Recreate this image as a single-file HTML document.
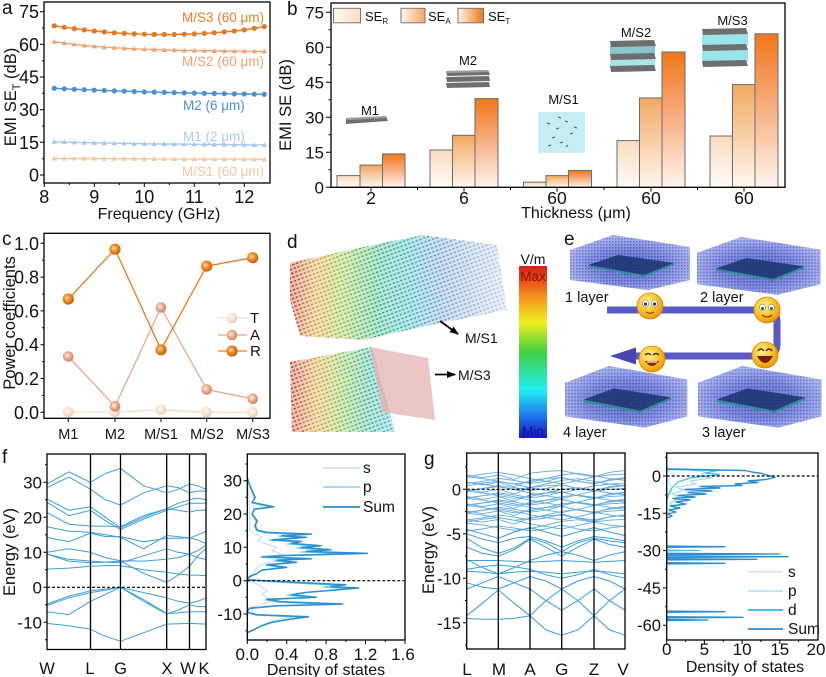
<!DOCTYPE html>
<html><head><meta charset="utf-8">
<style>
html,body{margin:0;padding:0;background:#fff;width:826px;height:677px;overflow:hidden}
svg{display:block}
text{font-family:"Liberation Sans",Arial,sans-serif;fill:#111}
</style></head>
<body>
<svg width="826" height="677" viewBox="0 0 826 677" xmlns="http://www.w3.org/2000/svg">
<defs>
  <marker id="mc1" markerUnits="userSpaceOnUse" markerWidth="8" markerHeight="8" refX="4" refY="4"><circle cx="4" cy="4" r="2.6" fill="#e87722"/></marker>
  <marker id="mc2" markerUnits="userSpaceOnUse" markerWidth="8" markerHeight="8" refX="4" refY="4"><circle cx="4" cy="4" r="2.6" fill="#4a90d9"/></marker>
  <marker id="mt1" markerUnits="userSpaceOnUse" markerWidth="7" markerHeight="7" refX="3.5" refY="3.5"><path d="M3.5,0.8 L6.2,5.6 L0.8,5.6Z" fill="#f0a275"/></marker>
  <marker id="mt2" markerUnits="userSpaceOnUse" markerWidth="7" markerHeight="7" refX="3.5" refY="3.5"><path d="M3.5,0.8 L6.2,5.6 L0.8,5.6Z" fill="#a8c8ec"/></marker>
  <marker id="mt3" markerUnits="userSpaceOnUse" markerWidth="7" markerHeight="7" refX="3.5" refY="3.5"><path d="M3.5,0.8 L6.2,5.6 L0.8,5.6Z" fill="#f5c9a0"/></marker>
  <radialGradient id="sR" cx=".4" cy=".4" r=".65"><stop offset="0" stop-color="#ffe0b0"/><stop offset=".45" stop-color="#f08a20"/><stop offset="1" stop-color="#c05a08"/></radialGradient>
  <radialGradient id="sA" cx=".4" cy=".4" r=".65"><stop offset="0" stop-color="#fff0e8"/><stop offset=".5" stop-color="#eaa88a"/><stop offset="1" stop-color="#c88060"/></radialGradient>
  <radialGradient id="sT" cx=".4" cy=".4" r=".65"><stop offset="0" stop-color="#fffaf5"/><stop offset=".5" stop-color="#fbe2cc"/><stop offset="1" stop-color="#e8c8b0"/></radialGradient>
  <marker id="mR" markerUnits="userSpaceOnUse" markerWidth="13" markerHeight="13" refX="6.5" refY="6.5"><circle cx="6.5" cy="6.5" r="5.6" fill="url(#sR)"/></marker>
  <marker id="mA" markerUnits="userSpaceOnUse" markerWidth="13" markerHeight="13" refX="6.5" refY="6.5"><circle cx="6.5" cy="6.5" r="5.3" fill="url(#sA)"/></marker>
  <marker id="mT" markerUnits="userSpaceOnUse" markerWidth="13" markerHeight="13" refX="6.5" refY="6.5"><circle cx="6.5" cy="6.5" r="5.3" fill="url(#sT)"/></marker>
  <linearGradient id="gR" x1="0" y1="0" x2="0" y2="1"><stop offset="0" stop-color="#fadcc0"/><stop offset="1" stop-color="#fffbf7"/></linearGradient>
  <linearGradient id="gA" x1="0" y1="0" x2="0" y2="1"><stop offset="0" stop-color="#f2a860"/><stop offset="1" stop-color="#fff7f0"/></linearGradient>
  <linearGradient id="gT" x1="0" y1="0" x2="0" y2="1"><stop offset="0" stop-color="#f17619"/><stop offset=".5" stop-color="#f7b085"/><stop offset="1" stop-color="#fff5ee"/></linearGradient>
  <linearGradient id="lR" x1="0" y1="0" x2="1" y2="0"><stop offset="0" stop-color="#fffbf7"/><stop offset="1" stop-color="#fadcc0"/></linearGradient>
  <linearGradient id="lA" x1="0" y1="0" x2="1" y2="0"><stop offset="0" stop-color="#fff7f0"/><stop offset="1" stop-color="#f2a860"/></linearGradient>
  <linearGradient id="lT" x1="0" y1="0" x2="1" y2="0"><stop offset="0" stop-color="#fff5ee"/><stop offset="1" stop-color="#f17619"/></linearGradient>
  <linearGradient id="cb" x1="0" y1="0" x2="0" y2="1">
    <stop offset="0" stop-color="#d8201a"/><stop offset=".08" stop-color="#e84a18"/><stop offset=".2" stop-color="#f5a020"/>
    <stop offset=".33" stop-color="#f0f020"/><stop offset=".5" stop-color="#40d040"/><stop offset=".62" stop-color="#30e0a0"/>
    <stop offset=".72" stop-color="#20f0f0"/><stop offset=".86" stop-color="#2080f0"/><stop offset="1" stop-color="#1818c0"/>
  </linearGradient>
  <linearGradient id="cl1" gradientUnits="userSpaceOnUse" x1="290" y1="0" x2="505" y2="0">
    <stop offset="0" stop-color="#c42a1e"/><stop offset=".12" stop-color="#d9a030"/><stop offset=".25" stop-color="#8cc040"/>
    <stop offset=".4" stop-color="#30b070"/><stop offset=".55" stop-color="#30b0b8"/><stop offset=".7" stop-color="#6a9cd0"/><stop offset="1" stop-color="#c0cce8"/>
  </linearGradient>
  <linearGradient id="cl2" gradientUnits="userSpaceOnUse" x1="290" y1="0" x2="395" y2="0">
    <stop offset="0" stop-color="#c42a1e"/><stop offset=".25" stop-color="#d9a030"/><stop offset=".5" stop-color="#7cc040"/>
    <stop offset=".75" stop-color="#30b090"/><stop offset="1" stop-color="#50b8d8"/>
  </linearGradient>
  <pattern id="dp" width="4" height="4" patternUnits="userSpaceOnUse" patternTransform="rotate(-20)">
    <rect width="4" height="4" fill="#000"/><rect width="2.4" height="1.6" fill="#fff"/>
  </pattern>
  <mask id="dm"><rect x="280" y="220" width="260" height="220" fill="url(#dp)"/></mask>
  <radialGradient id="bg1" cx=".5" cy=".55" r=".62"><stop offset="0" stop-color="#2838a8"/><stop offset=".5" stop-color="#5060cc"/><stop offset="1" stop-color="#a4acee"/></radialGradient>
  <pattern id="dotB" width="3" height="3" patternUnits="userSpaceOnUse"><rect width="3" height="3" fill="#fff"/><rect width="1.5" height="1.5" fill="#3a4ac0"/></pattern>
  <g id="blk">
    <polygon points="0,15 43,0 120,12 120,45 78,55 0,45" fill="url(#bg1)"/>
    <polygon points="0,15 43,0 120,12 120,45 78,55 0,45" fill="url(#dotB)" opacity=".3"/>
    <polygon points="18,30 48,20 104,28 74,40" fill="#1c3270" opacity=".85"/>
    <polyline points="18,31 74,41 104,29" stroke="#2f8f96" stroke-width="2" fill="none"/>
  </g>
  <radialGradient id="emo" cx=".4" cy=".35" r=".7"><stop offset="0" stop-color="#fff3a0"/><stop offset=".5" stop-color="#ffc830"/><stop offset="1" stop-color="#e89000"/></radialGradient>
  <marker id="arr" markerUnits="userSpaceOnUse" markerWidth="10" markerHeight="10" refX="8" refY="5" orient="auto"><path d="M0,1.5 L9,5 L0,8.5Z" fill="#000"/></marker>
  <path id="s1" d="M466.7,0 L482.5,2.7 L498.3,0 L514.2,4.5 L530,-1.8 L545.9,-3.6 L561.7,-4.5 L577.9,-0.9 L594,1.8 L609.5,-2.7 L625,-4.5" fill="none"/>
  <path id="s2" d="M466.7,0 L482.5,-2.7 L498.3,-4.5 L514.2,-1.8 L530,1.8 L545.9,4.5 L561.7,7.1 L577.9,3.6 L594,0 L609.5,-1.8 L625,-2.7" fill="none"/>
  <path id="s3" d="M466.7,-1.8 L482.5,0 L498.3,2.7 L514.2,5.3 L530,3.6 L545.9,0 L561.7,-3.6 L577.9,-5.3 L594,-2.7 L609.5,0 L625,1.8" fill="none"/>
  <path id="s4" d="M466.7,3 L482.5,1 L498.3,-2 L514.2,0 L530,3 L545.9,1 L561.7,-3 L577.9,1 L594,3 L609.5,0 L625,-2" fill="none"/>
</defs>

<!-- ================= PANEL A ================= -->
<text x="2" y="14" font-size="19">a</text>
<rect x="44" y="2" width="226" height="181" fill="none" stroke="#000" stroke-width="1.3"/>
<g stroke="#000" stroke-width="1">
  <path d="M40,175H44M40,142.3H44M40,109.7H44M40,77H44M40,44.3H44M40,11.7H44M42,158.7H44M42,126H44M42,93.3H44M42,60.7H44M42,28H44"/>
  <path d="M44.3,183V187M94.3,183V187M144.3,183V187M194.3,183V187M244.3,183V187M69.3,183V185M119.3,183V185M169.3,183V185M219.3,183V185"/>
</g>
<g font-size="18" text-anchor="end">
  <text x="39" y="18.2">75</text><text x="39" y="50.8">60</text><text x="39" y="83.5">45</text>
  <text x="39" y="116.2">30</text><text x="39" y="148.8">15</text><text x="39" y="181.5">0</text>
</g>
<g font-size="18" text-anchor="middle">
  <text x="44.3" y="203">8</text><text x="94.3" y="203">9</text><text x="144.3" y="203">10</text>
  <text x="194.3" y="203">11</text><text x="244.3" y="203">12</text>
</g>
<text x="159" y="219" font-size="16" text-anchor="middle">Frequency (GHz)</text>
<text transform="translate(16,97) rotate(-90)" font-size="16.5" text-anchor="middle">EMI SE<tspan font-size="11" dy="4">T</tspan><tspan dy="-4"> (dB)</tspan></text>
<g fill="none" stroke-width="1.4">
  <polyline stroke="#e87722" marker-start="url(#mc1)" marker-mid="url(#mc1)" marker-end="url(#mc1)" points="54.3,25.8 64.3,27.3 74.3,28.6 84.3,29.9 94.3,31.0 104.3,31.9 114.3,32.8 124.3,33.4 134.3,33.9 144.3,34.2 154.3,34.5 164.3,34.5 174.3,34.5 184.3,34.2 194.3,33.9 204.3,33.4 214.3,32.8 224.3,31.9 234.3,31.0 244.3,29.9 254.3,28.4 264.3,26.6"/>
  <polyline stroke="#f0a275" marker-start="url(#mt1)" marker-mid="url(#mt1)" marker-end="url(#mt1)" points="54.3,41.7 64.3,43.1 74.3,44.3 84.3,45.4 94.3,46.3 104.3,47.1 114.3,47.7 124.3,48.3 134.3,48.8 144.3,49.2 154.3,49.6 164.3,49.9 174.3,50.1 184.3,50.4 194.3,50.5 204.3,50.7 214.3,50.9 224.3,51.0 234.3,51.1 244.3,51.2 254.3,51.3 264.3,51.3"/>
  <polyline stroke="#4a90d9" marker-start="url(#mc2)" marker-mid="url(#mc2)" marker-end="url(#mc2)" points="54.3,88.3 64.3,88.8 74.3,89.3 84.3,89.7 94.3,90.1 104.3,90.5 114.3,90.9 124.3,91.2 134.3,91.5 144.3,91.8 154.3,92.1 164.3,92.4 174.3,92.6 184.3,92.9 194.3,93.1 204.3,93.3 214.3,93.5 224.3,93.7 234.3,93.9 244.3,94.0 254.3,94.2 264.3,94.3"/>
  <polyline stroke="#a8c8ec" marker-start="url(#mt2)" marker-mid="url(#mt2)" marker-end="url(#mt2)" points="54.3,141.7 64.3,142.0 74.3,142.3 84.3,142.6 94.3,142.8 104.3,143.0 114.3,143.2 124.3,143.4 134.3,143.6 144.3,143.7 154.3,143.9 164.3,144.0 174.3,144.1 184.3,144.2 194.3,144.3 204.3,144.4 214.3,144.5 224.3,144.6 234.3,144.7 244.3,144.8 254.3,144.9 264.3,145.0"/>
  <polyline stroke="#f5c9a0" marker-start="url(#mt3)" marker-mid="url(#mt3)" marker-end="url(#mt3)" points="54.3,158.3 64.3,158.4 74.3,158.4 84.3,158.5 94.3,158.5 104.3,158.6 114.3,158.6 124.3,158.7 134.3,158.7 144.3,158.8 154.3,158.8 164.3,158.8 174.3,158.9 184.3,158.9 194.3,159.0 204.3,159.0 214.3,159.0 224.3,159.1 234.3,159.1 244.3,159.2 254.3,159.2 264.3,159.3"/>
</g>
<g font-size="13.5">
  <text x="182" y="22" style="fill:#e8802a">M/S3 (60 μm)</text>
  <text x="182" y="66" style="fill:#f0a070">M/S2 (60 μm)</text>
  <text x="183" y="110" style="fill:#4a8fd8">M2 (6 μm)</text>
  <text x="183" y="141" style="fill:#a9c9ee">M1 (2 μm)</text>
  <text x="182" y="176" style="fill:#f5c8a0">M/S1 (60 μm)</text>
</g>

<!-- ================= PANEL B ================= -->
<text x="287" y="15" font-size="19">b</text>
<text transform="translate(291,105) rotate(-90)" font-size="16.5" text-anchor="middle">EMI SE (dB)</text>
<g stroke="#6c6c6c" stroke-width="1">
  <rect x="337" y="175.6" width="23" height="11.7" fill="url(#gR)"/>
  <rect x="360" y="165.1" width="22.5" height="22.2" fill="url(#gA)"/>
  <rect x="382.5" y="153.9" width="22.5" height="33.4" fill="url(#gT)"/>
  <rect x="430" y="150" width="22.5" height="37.3" fill="url(#gR)"/>
  <rect x="452.5" y="135.3" width="22.5" height="52" fill="url(#gA)"/>
  <rect x="475" y="98.6" width="23" height="88.7" fill="url(#gT)"/>
  <rect x="523.5" y="182.2" width="22.5" height="5.1" fill="url(#gR)"/>
  <rect x="546" y="175.6" width="22.5" height="11.7" fill="url(#gA)"/>
  <rect x="568.5" y="170.5" width="23" height="16.8" fill="url(#gT)"/>
  <rect x="617" y="140.6" width="22.5" height="46.7" fill="url(#gR)"/>
  <rect x="639.5" y="97.9" width="22.5" height="89.4" fill="url(#gA)"/>
  <rect x="662" y="52" width="23" height="135.3" fill="url(#gT)"/>
  <rect x="710" y="136" width="22.5" height="51.3" fill="url(#gR)"/>
  <rect x="732.5" y="84.6" width="22.5" height="102.7" fill="url(#gA)"/>
  <rect x="755" y="33.8" width="23" height="153.5" fill="url(#gT)"/>
</g>
<rect x="331" y="3" width="454" height="184.3" fill="none" stroke="#000" stroke-width="1.3"/>
<g stroke="#000" stroke-width="1">
  <path d="M326,187.3H331M326,152.3H331M326,117.3H331M326,82.3H331M326,47.3H331M326,12.3H331M328.5,169.8H331M328.5,134.8H331M328.5,99.8H331M328.5,64.8H331M328.5,29.8H331"/>
  <path d="M371,187.3V191.5M464,187.3V191.5M557,187.3V191.5M651,187.3V191.5M744,187.3V191.5M417.5,187.3V190M510.5,187.3V190M604,187.3V190M697.5,187.3V190"/>
</g>
<g font-size="17" text-anchor="end">
  <text x="324" y="18.3">75</text><text x="324" y="53.3">60</text><text x="324" y="88.3">45</text>
  <text x="324" y="123.3">30</text><text x="324" y="158.3">15</text><text x="324" y="193.3">0</text>
</g>
<g font-size="17.5" text-anchor="middle">
  <text x="371" y="204">2</text><text x="464" y="204">6</text><text x="557" y="204">60</text>
  <text x="651" y="204">60</text><text x="744" y="204">60</text>
</g>
<text x="576" y="218" font-size="16" text-anchor="middle">Thickness (μm)</text>
<g stroke="#777" stroke-width="1">
  <rect x="333.5" y="8.3" width="27" height="14.5" fill="url(#lR)"/>
  <rect x="401" y="8.3" width="24" height="14.5" fill="url(#lA)"/>
  <rect x="458" y="8.3" width="25.5" height="14.5" fill="url(#lT)"/>
</g>
<g font-size="13">
  <text x="365" y="21">SE<tspan font-size="8" dy="3">R</tspan></text>
  <text x="428" y="21">SE<tspan font-size="8" dy="3">A</tspan></text>
  <text x="488" y="21">SE<tspan font-size="8" dy="3">T</tspan></text>
</g>
<g font-size="13" text-anchor="middle">
  <text x="370" y="115">M1</text><text x="468" y="65">M2</text><text x="563.5" y="104">M/S1</text>
  <text x="636" y="37">M/S2</text><text x="732.5" y="25">M/S3</text>
</g>
<g fill="#6e6e6e">
  <polygon points="346,118 386,116 388,121 346,124"/>
  <polygon points="446,71 488,70 490,75 447,76"/>
  <polygon points="446,77 489,76 490,81 447,82"/>
  <polygon points="446,83 489,82 490,87 447,88"/>
</g>
<g fill="#a0a0a0"><polygon points="346,118 386,116 387,118 347,120"/><polygon points="446,71 488,70 489,72 447,73"/></g>
<rect x="538" y="112" width="47" height="41" fill="#c7eef4"/>
<g stroke="#555" stroke-width="1">
  <path d="M547,123l3,1M556,129l3,-1M565,121l3,1M552,138l3,-1M570,134l3,-1M560,143l3,-1M574,127l3,1M548,146l3,-1M566,147l2,-2M558,117l3,1"/>
</g>
<rect x="610" y="46" width="45" height="9" fill="#86c8cc"/>
<rect x="610" y="59" width="45" height="8" fill="#a8e4ea"/>
<g fill="#6e6e6e">
  <polygon points="610,41 654,40 656,46 611,47"/>
  <polygon points="610,54 654,53 656,59 611,60"/>
  <polygon points="610,66 654,65 656,71 611,72"/>
</g>
<rect x="702" y="34" width="46" height="12" fill="#9ae4ea"/>
<rect x="702" y="50" width="46" height="12" fill="#9ae4ea"/>
<g fill="#6e6e6e">
  <polygon points="702,29 746,28 748,34 703,35"/>
  <polygon points="702,45 746,44 748,50 703,51"/>
  <polygon points="702,61 746,60 748,66 703,67"/>
</g>

<!-- ================= PANEL C ================= -->
<text x="2" y="245" font-size="19">c</text>
<rect x="44" y="233.3" width="226" height="185" fill="none" stroke="#000" stroke-width="1.3"/>
<g stroke="#000" stroke-width="1">
  <path d="M40.5,412.3H44M40.5,378.5H44M40.5,344.7H44M40.5,310.9H44M40.5,277.1H44M40.5,243.3H44M42,395.4H44M42,361.6H44M42,327.8H44M42,294H44M42,260.2H44"/>
  <path d="M68.3,418.3V422M115,418.3V422M161,418.3V422M206.7,418.3V422M252.7,418.3V422"/>
</g>
<g font-size="18" text-anchor="end">
  <text x="39" y="418.8">0.0</text><text x="39" y="385">0.2</text><text x="39" y="351.2">0.4</text>
  <text x="39" y="317.4">0.6</text><text x="39" y="283.6">0.8</text><text x="39" y="249.8">1.0</text>
</g>
<g font-size="14.5" text-anchor="middle">
  <text x="68.3" y="439">M1</text><text x="115" y="439">M2</text><text x="161" y="439">M/S1</text>
  <text x="207" y="439">M/S2</text><text x="253" y="439">M/S3</text>
</g>
<text transform="translate(15,323) rotate(-90)" font-size="16.5" text-anchor="middle">Power coefficients</text>
<g fill="none" stroke-width="1.3">
  <polyline stroke="#f8dcc8" marker-start="url(#mT)" marker-mid="url(#mT)" marker-end="url(#mT)" points="68.3,412 115,412 161,409.8 206.7,412.3 252.7,412.3"/>
  <polyline stroke="#eaa88a" marker-start="url(#mA)" marker-mid="url(#mA)" marker-end="url(#mA)" points="68.3,356.5 115,406.4 161,307.5 206.7,389.5 252.7,398.8"/>
  <polyline stroke="#e87a1e" marker-start="url(#mR)" marker-mid="url(#mR)" marker-end="url(#mR)" points="68.3,299.1 115,249.2 161,349.8 206.7,266.1 252.7,257.7"/>
  <polyline stroke="#f8dcc8" marker-mid="url(#mT)" points="218,318 232,318 247,318"/>
  <polyline stroke="#eaa88a" marker-mid="url(#mA)" points="218,335 232,335 247,335"/>
  <polyline stroke="#e87a1e" marker-mid="url(#mR)" points="218,351 232,351 247,351"/>
</g>
<g font-size="15"><text x="250" y="323">T</text><text x="250" y="340">A</text><text x="250" y="356">R</text></g>

<!-- ================= PANEL D ================= -->
<text x="287" y="248" font-size="19">d</text>
<polygon points="290,263 363,247 423,235 497,245 507,310 440,323 363,340 300,336 290,300" fill="url(#cl1)" opacity=".3"/>
<polygon points="290,263 363,247 423,235 497,245 507,310 440,323 363,340 300,336 290,300" fill="url(#cl1)" mask="url(#dm)"/>
<polygon points="290,362 372,347 395,432 292,432" fill="url(#cl2)" opacity=".3"/>
<polygon points="290,362 372,347 395,432 292,432" fill="url(#cl2)" mask="url(#dm)"/>
<polygon points="370,347 428,358 435,420 382,412" fill="#e6b2b2" opacity=".75"/>
<line x1="440" y1="321" x2="458" y2="334" stroke="#000" stroke-width="1.8" marker-end="url(#arr)"/>
<line x1="435" y1="374.5" x2="455" y2="374.5" stroke="#000" stroke-width="1.8" marker-end="url(#arr)"/>
<text x="465" y="343" font-size="14">M/S1</text>
<text x="458" y="380" font-size="14">M/S3</text>
<rect x="519" y="266" width="28" height="172" fill="url(#cb)"/>
<text x="533" y="264" font-size="14" text-anchor="middle">V/m</text>
<text x="533" y="281" font-size="13.5" text-anchor="middle" style="fill:#8a1010">Max</text>
<text x="533" y="436" font-size="13.5" text-anchor="middle" style="fill:#10108a">Min</text>

<!-- ================= PANEL E ================= -->
<text x="564" y="245" font-size="19">e</text>
<use href="#blk" transform="translate(570,235)"/>
<use href="#blk" transform="translate(697,237) scale(1.03,1.05)"/>
<use href="#blk" transform="translate(565,366) scale(1.02,1.12)"/>
<use href="#blk" transform="translate(698,366) scale(1.03,1.12)"/>
<g font-size="14.5">
  <text x="565" y="302">1 layer</text><text x="700" y="302">2 layer</text>
  <text x="563" y="437">4 layer</text><text x="702" y="437">3 layer</text>
</g>
<path d="M607,310 H766 Q777,310 777,322 V344 Q777,356 766,356 H632" fill="none" stroke="#5a5ac6" stroke-width="7"/>
<polygon points="610,356 636,347.5 636,364.5" fill="#4646b4"/>
<g transform="translate(650,306)">
  <circle r="13" fill="url(#emo)" stroke="#d08a00" stroke-width=".8"/>
  <ellipse cx="-4.5" cy="-2.5" rx="3" ry="3.6" fill="#fff" stroke="#555" stroke-width=".5"/><ellipse cx="4.5" cy="-2.5" rx="3" ry="3.6" fill="#fff" stroke="#555" stroke-width=".5"/>
  <circle cx="-4.5" cy="-2" r="1.6" fill="#1a3a7a"/><circle cx="4.5" cy="-2" r="1.6" fill="#1a3a7a"/>
  <path d="M-4,6 Q0,8.5 4,6" stroke="#904000" stroke-width="1.2" fill="none"/>
</g>
<g transform="translate(767,310)">
  <circle r="13" fill="url(#emo)" stroke="#d08a00" stroke-width=".8"/>
  <ellipse cx="-4.5" cy="-2.5" rx="3" ry="3.4" fill="#fff" stroke="#555" stroke-width=".5"/><ellipse cx="4.5" cy="-2.5" rx="3" ry="3.4" fill="#fff" stroke="#555" stroke-width=".5"/>
  <circle cx="-4.5" cy="-1.5" r="1.5" fill="#1a6a4a"/><circle cx="4.5" cy="-1.5" r="1.5" fill="#1a6a4a"/>
  <path d="M-5,5 Q0,9 5,5" stroke="#904000" stroke-width="1.2" fill="none"/>
</g>
<g transform="translate(765,355)">
  <circle r="13" fill="url(#emo)" stroke="#d08a00" stroke-width=".8"/>
  <path d="M-7,-4 Q-4,-8 -1,-4 M1,-4 Q4,-8 7,-4" stroke="#5a2a00" stroke-width="1.4" fill="none"/>
  <path d="M-8,1 Q0,15 8,1 Z" fill="#7a1a00"/>
</g>
<g transform="translate(652,359)">
  <circle r="13" fill="url(#emo)" stroke="#d08a00" stroke-width=".8"/>
  <path d="M-7,-4 Q-4,-7 -1,-4 M1,-4 Q4,-7 7,-4" stroke="#5a2a00" stroke-width="1.4" fill="none"/>
  <path d="M-7,2 Q0,12 7,2 Z" fill="#8a2a00"/><path d="M-5,3 H5" stroke="#fff" stroke-width="1.2"/>
</g>

<!-- ================= PANEL F (bands) ================= -->
<text x="2" y="463" font-size="19">f</text>
<g fill="none" stroke="#3aa0dc" stroke-width="1" stroke-linejoin="round">
  <polyline points="47,484.1 68.8,471.8 90.5,482.3 105.5,473.5 120.5,468.3 143.6,485.8 166.7,492.8 178.1,489.3 189.5,484.1 197.8,485.8 206,489.3"/>
  <polyline points="47,487.6 68.8,477.1 90.5,489.3 105.5,499.8 120.5,505.1 143.6,492.8 166.7,485.8 178.1,487.6 189.5,492.8 197.8,491.1 206,491.1"/>
  <polyline points="47,499.1 68.8,510.3 90.5,506.8 105.5,517.3 120.5,527.8 143.6,517.3 166.7,508.6 178.1,503.3 189.5,499.8 197.8,498.1 206,499.8"/>
  <polyline points="47,502.3 68.8,515.6 90.5,510.3 105.5,520.8 120.5,529.6 143.6,519.1 166.7,510.3 178.1,506.8 189.5,503.3 197.8,503.3 206,503.3"/>
  <polyline points="47,512.4 68.8,524.3 90.5,526.1 105.5,526.1 120.5,526.8 143.6,515.6 166.7,508.9 178.1,510.3 189.5,512.1 197.8,510.3 206,510.3"/>
  <polyline points="47,526.8 68.8,531.3 90.5,532.4 105.5,534.8 120.5,537.3 143.6,548.8 166.7,535.5 178.1,536.6 189.5,538.3 197.8,534.8 206,531.3"/>
  <polyline points="47,537.3 68.8,541.8 90.5,533.1 105.5,536.6 120.5,536.6 143.6,541.8 166.7,538.3 178.1,538.3 189.5,537.6 197.8,540.1 206,543.6"/>
  <polyline points="47,552.3 68.8,548.8 90.5,552.3 105.5,557.6 120.5,560.7 143.6,561.1 166.7,559.3 178.1,557.6 189.5,554.1 197.8,550.6 206,545.3"/>
  <polyline points="47,554.1 68.8,559.3 90.5,561.1 105.5,562.1 120.5,562.8 143.6,555.8 166.7,548.8 178.1,552.3 189.5,554.1 197.8,557.6 206,559.3"/>
  <polyline points="47,569.1 68.8,568.1 90.5,566.3 105.5,565.6 120.5,565.6 143.6,569.8 166.7,572.3 178.1,574 189.5,575.1 197.8,575.1 206,575.8"/>
  <polyline points="47,554.1 68.8,561.1 90.5,562.8 105.5,562.1 120.5,561.1 143.6,573.3 166.7,582.4 178.1,575.1 189.5,566.3 197.8,555.8 206,548.8"/>
  <polyline points="47,604.1 68.8,596.1 90.5,590.8 105.5,589.1 120.5,587.3 143.6,592.6 166.7,597.8 178.1,601.3 189.5,603.1 197.8,601.3 206,597.8"/>
  <polyline points="47,605.5 68.8,597.8 90.5,592.6 105.5,590.1 120.5,587.3 143.6,601.3 166.7,613.9 178.1,610.1 189.5,604.8 197.8,606.6 206,606.6"/>
  <polyline points="47,611.8 68.8,614.6 90.5,601.3 105.5,594.3 120.5,587.3 143.6,599.6 166.7,613.6 178.1,612.9 189.5,611.8 197.8,611.8 206,611.8"/>
  <polyline points="47,623.4 68.8,625.8 90.5,629.3 105.5,636.3 120.5,641.2 143.6,632.8 166.7,624.1 178.1,623.7 189.5,623.4 197.8,623.7 206,624.1"/>
</g>
<line x1="47" y1="587.3" x2="206" y2="587.3" stroke="#000" stroke-width="1.2" stroke-dasharray="3,2"/>
<g stroke="#000" stroke-width="1.3">
  <line x1="90.5" y1="454" x2="90.5" y2="649.5"/><line x1="120.5" y1="454" x2="120.5" y2="649.5"/>
  <line x1="166.7" y1="454" x2="166.7" y2="649.5"/><line x1="189.5" y1="454" x2="189.5" y2="649.5"/>
</g>
<rect x="47" y="454" width="159" height="195.5" fill="none" stroke="#000" stroke-width="1.3"/>
<g stroke="#000" stroke-width="1">
  <path d="M43.5,482.3H47M43.5,517.3H47M43.5,552.3H47M43.5,587.3H47M43.5,622.3H47M45,464.8H47M45,499.8H47M45,534.8H47M45,569.8H47M45,604.8H47M45,639.8H47"/>
</g>
<g font-size="17" text-anchor="end">
  <text x="42" y="488.3">30</text><text x="42" y="523.3">20</text><text x="42" y="558.3">10</text>
  <text x="42" y="593.3">0</text><text x="42" y="628.3">-10</text>
</g>
<g font-size="16.5" text-anchor="middle">
  <text x="47" y="674">W</text><text x="90" y="674">L</text><text x="120.5" y="674">G</text>
  <text x="167" y="674">X</text><text x="188" y="674">W</text><text x="204" y="674">K</text>
</g>
<text transform="translate(15,552) rotate(-90)" font-size="16.5" text-anchor="middle">Energy (eV)</text>

<!-- ================= PANEL F (DOS) ================= -->
<g fill="none" stroke-linejoin="round">
  <polyline stroke="#bcdcf0" stroke-width="1" points="247.3,478 249,500 250,520 249.3,530.7 262.1,537.4 257.2,540.7 267,544.1 276.9,547.4 271.9,550.7 281.8,554.1 267,557.4 276.9,560.7 262.1,564.1 257.2,567.4 252.2,574 247.3,580.7 257.2,584 267,590.7 262.1,594 271.9,600.7 252.2,607.3 252.2,614 291.6,617.3 271.9,620.7 257.2,627.3 247.3,632.3"/>
  <polyline stroke="#6ccbe8" stroke-width="1" transform="translate(24.7,0.6) scale(0.9,1)" points="247.3,477.5 249.3,484.1 252.2,490.8 255.2,497.5 252.2,502.4 273.9,506.8 254.2,509.1 252.2,514.1 257.2,520.8 255.2,525.8 257.2,530.1 267,532.4 311.3,534.1 281.8,535.7 306.4,537.4 271.9,539.7 301.5,541.4 291.6,543.4 321.2,545.7 301.5,547.4 331,549.7 306.4,551.4 367.5,553.4 286.7,555.4 262,556.7 311.3,558.7 276.9,560.1 296.6,562.4 267,564.7 286.7,567.4 262,570 257.2,573.4 249.3,576.7 247.3,579.7 296.6,582.4 345.8,584.7 331,586.7 358.6,588 336,590 306.4,592.4 291.6,594.7 316.3,597.3 267,599.3 281.8,601.7 342.8,604 276.9,605.7 249.3,608.3 247.3,612.3 257.2,614.7 308.4,616.7 291.6,619 272,622.3 262,625.7 255.2,629 247.3,632.6"/>
  <polyline stroke="#2a8fd0" stroke-width="1.5" points="247.3,477.5 249.3,484.1 252.2,490.8 255.2,497.5 252.2,502.4 273.9,506.8 254.2,509.1 252.2,514.1 257.2,520.8 255.2,525.8 257.2,530.1 267,532.4 311.3,534.1 281.8,535.7 306.4,537.4 271.9,539.7 301.5,541.4 291.6,543.4 321.2,545.7 301.5,547.4 331,549.7 306.4,551.4 367.5,553.4 286.7,555.4 262,556.7 311.3,558.7 276.9,560.1 296.6,562.4 267,564.7 286.7,567.4 262,570 257.2,573.4 249.3,576.7 247.3,579.7 296.6,582.4 345.8,584.7 331,586.7 358.6,588 336,590 306.4,592.4 291.6,594.7 316.3,597.3 267,599.3 281.8,601.7 342.8,604 276.9,605.7 249.3,608.3 247.3,612.3 257.2,614.7 308.4,616.7 291.6,619 272,622.3 262,625.7 255.2,629 247.3,632.6"/>
</g>
<line x1="247.3" y1="580.7" x2="405" y2="580.7" stroke="#000" stroke-width="1.2" stroke-dasharray="3,2"/>
<rect x="247.3" y="454" width="157.7" height="186" fill="none" stroke="#000" stroke-width="1.3"/>
<g stroke="#000" stroke-width="1">
  <path d="M243.5,480.7H247.3M243.5,514H247.3M243.5,547.3H247.3M243.5,580.7H247.3M243.5,614H247.3M245.5,464H247.3M245.5,497.4H247.3M245.5,530.7H247.3M245.5,564H247.3M245.5,597.4H247.3M245.5,630.7H247.3"/>
  <path d="M247.3,640V644M286.7,640V644M326.1,640V644M365.5,640V644M405,640V644M267,640V642M306.4,640V642M345.8,640V642M385.2,640V642"/>
</g>
<g font-size="17" text-anchor="end">
  <text x="242" y="486.7">30</text><text x="242" y="520">20</text><text x="242" y="553.3">10</text>
  <text x="242" y="586.7">0</text><text x="242" y="620">-10</text>
</g>
<g font-size="17" text-anchor="middle">
  <text x="247.3" y="660">0.0</text><text x="286.7" y="660">0.4</text><text x="326.1" y="660">0.8</text>
  <text x="365.5" y="660">1.2</text><text x="403" y="660">1.6</text>
</g>
<text x="326" y="675" font-size="16" text-anchor="middle">Density of states</text>
<g stroke-width="1.3">
  <line x1="323" y1="468" x2="360" y2="468" stroke="#bcdcf0"/>
  <line x1="323" y1="487" x2="360" y2="487" stroke="#6ccbe8"/>
  <line x1="323" y1="507" x2="360" y2="507" stroke="#2a8fd0" stroke-width="1.8"/>
</g>
<g font-size="15.5"><text x="363" y="473">s</text><text x="363" y="492">p</text><text x="363" y="512">Sum</text></g>

<!-- ================= PANEL G (bands) ================= -->
<text x="424" y="465" font-size="19">g</text>
<g stroke="#62aee8" stroke-width=".9" fill="none">
  <use href="#s1" y="475"/><use href="#s2" y="476.8"/><use href="#s3" y="478.6"/><use href="#s4" y="480.4"/>
  <use href="#s1" y="482.2"/><use href="#s3" y="484"/><use href="#s2" y="485.8"/><use href="#s4" y="487.6"/>
  <use href="#s1" y="489.4"/><use href="#s2" y="491.2"/><use href="#s3" y="493"/><use href="#s4" y="494.8"/>
  <use href="#s1" y="496.6"/><use href="#s2" y="498.4"/><use href="#s3" y="500.2"/><use href="#s4" y="502"/>
  <use href="#s1" y="503.8"/><use href="#s2" y="505.6"/><use href="#s3" y="507.4"/><use href="#s4" y="509.2"/>
  <use href="#s1" y="511"/><use href="#s2" y="513"/><use href="#s3" y="515"/><use href="#s4" y="517"/>
  <use href="#s1" y="519.5"/><use href="#s2" y="522"/><use href="#s3" y="525"/><use href="#s4" y="528"/>
</g>
<g fill="none" stroke="#3a9ee0" stroke-width="1" stroke-linejoin="round">
  <polyline points="466.7,615.7 482.5,603.2 498.3,589.9 514.2,603.2 530,615.7 545.9,629.9 561.7,635.3 577.9,629.9 594,615.7 609.5,629.9 625,635.3"/>
  <polyline points="466.7,618.4 482.5,619.2 498.3,619.2 514.2,618.4 530,615.7 545.9,600.6 561.7,589 577.9,600.6 594,615.7 609.5,600.6 625,589"/>
  <polyline points="466.7,589 482.5,582.8 498.3,576.5 514.2,582.8 530,589 545.9,600.6 561.7,610.3 577.9,600.6 594,589 609.5,600.6 625,610.3"/>
  <polyline points="466.7,582.8 482.5,587.2 498.3,589 514.2,582.8 530,576.5 545.9,581 561.7,589 577.9,581 594,576.5 609.5,581 625,589"/>
  <polyline points="466.7,571.2 482.5,572.1 498.3,573.9 514.2,572.1 530,571.2 545.9,572.1 561.7,573.9 577.9,572.1 594,571.2 609.5,572.1 625,573.9"/>
  <polyline points="466.7,569.4 482.5,566.7 498.3,565 514.2,566.7 530,569.4 545.9,574.7 561.7,578.3 577.9,574.7 594,569.4 609.5,574.7 625,578.3"/>
  <polyline points="466.7,560.5 482.5,560.5 498.3,560.5 514.2,561.4 530,562.3 545.9,561.4 561.7,560.5 577.9,561.4 594,562.3 609.5,561.4 625,560.5"/>
  <polyline points="466.7,559.6 482.5,567.6 498.3,573.9 514.2,567.6 530,560.5 545.9,555.2 561.7,551.6 577.9,555.2 594,560.5 609.5,555.2 625,551.6"/>
  <polyline points="466.7,538.3 482.5,548 498.3,553.4 514.2,548 530,538.3 545.9,542.7 561.7,551.6 577.9,542.7 594,538.3 609.5,540.9 625,542.7"/>
  <polyline points="466.7,533.8 482.5,539.1 498.3,542.7 514.2,538.3 530,536.5 545.9,540.9 561.7,547.2 577.9,540.9 594,536.5 609.5,538.3 625,540.9"/>
  <polyline points="466.7,529.4 482.5,533.8 498.3,538.3 514.2,532 530,527.6 545.9,532 561.7,536.5 577.9,532 594,527.6 609.5,532 625,535.6"/>
  <polyline points="466.7,547.2 482.5,553.4 498.3,556.1 514.2,549.8 530,539.1 545.9,547.2 561.7,556.1 577.9,547.2 594,539.1 609.5,544.5 625,547.2"/>
</g>
<line x1="466.7" y1="489.3" x2="625" y2="489.3" stroke="#000" stroke-width="1.2" stroke-dasharray="3,2"/>
<g stroke="#000" stroke-width="1.3">
  <line x1="498.3" y1="453" x2="498.3" y2="649"/><line x1="530" y1="453" x2="530" y2="649"/>
  <line x1="561.7" y1="453" x2="561.7" y2="649"/><line x1="594" y1="453" x2="594" y2="649"/>
</g>
<rect x="466.7" y="453" width="158.3" height="196" fill="none" stroke="#000" stroke-width="1.3"/>
<g stroke="#000" stroke-width="1">
  <path d="M463,489.3H466.7M463,533.8H466.7M463,578.3H466.7M463,622.8H466.7M465,467H466.7M465,511.6H466.7M465,556H466.7M465,600.5H466.7M465,645H466.7"/>
</g>
<g font-size="16.5" text-anchor="end">
  <text x="461" y="495.3">0</text><text x="461" y="539.8">-5</text><text x="461" y="584.3">-10</text><text x="461" y="628.8">-15</text>
</g>
<g font-size="17" text-anchor="middle">
  <text x="467" y="675">L</text><text x="499" y="675">M</text><text x="530" y="675">A</text>
  <text x="561.7" y="675">G</text><text x="594" y="675">Z</text><text x="623" y="675">V</text>
</g>
<text transform="translate(434,550) rotate(-90)" font-size="16.5" text-anchor="middle">Energy (eV)</text>

<!-- ================= PANEL G (DOS) ================= -->
<g fill="none" stroke-linejoin="round" stroke-width="1">
  <polyline stroke="#c4e2f4" points="666.7,470 675,474 668,480 672,490 667,500 666.7,510"/>
  <polyline stroke="#9dd6ee" points="666.7,469 690,470 705,472 700,476 712,478 690,481 696,484 676,487 684,490 672,494 680,498 670,503 675,508 667,514"/>
  <polyline stroke="#3cc8e0" stroke-width="1.3" points="666.7,469.5 718,470.5 705,473 720,474.5 690,478 678,482 672,488 668,495 666.7,500"/>
  <polyline stroke="#2a8fd0" stroke-width="1.4" points="666.7,468.5 669,469 745,470.5 752,472 762,473.5 775,477.5 766,479.5 748,481 758,482.5 735,484 742,485.5 700,486.5 720,488 685,489.5 712,491 688,492.5 706,494 678,495.5 695,497 673,498.5 690,500 676,502 686,504 670,506 680,508 669,510 676,512 668,514 672,516 666.7,518"/>
  <polyline stroke="#2a8fd0" stroke-width="1.3" points="666.7,546 725,546.7 666.7,547.4"/>
  <polyline stroke="#2a8fd0" stroke-width="1.3" points="666.7,553.3 780,554 666.7,554.8"/>
  <polyline stroke="#2a8fd0" stroke-width="1.3" points="666.7,556 788,556.7 666.7,557.5"/>
  <polyline stroke="#2a8fd0" stroke-width="1.3" points="666.7,558.7 757,559.3 666.7,560"/>
  <polyline stroke="#2a8fd0" stroke-width="1.3" points="666.7,562.7 725,563.3 666.7,564"/>
  <polyline stroke="#3cc8e0" stroke-width="1" points="666.7,550 700,550.5 666.7,551"/>
  <polyline stroke="#2a8fd0" stroke-width="1.3" points="666.7,611 725,611.7 666.7,612.4"/>
  <polyline stroke="#2a8fd0" stroke-width="1.3" points="666.7,616.6 743,617.3 666.7,618"/>
  <polyline stroke="#2a8fd0" stroke-width="1.3" points="666.7,619.5 708,620 666.7,620.6"/>
</g>
<line x1="666.7" y1="476" x2="818" y2="476" stroke="#000" stroke-width="1.2" stroke-dasharray="3,2"/>
<rect x="666.7" y="453" width="151.3" height="187" fill="none" stroke="#000" stroke-width="1.3"/>
<g stroke="#000" stroke-width="1">
  <path d="M663,476H666.7M663,513.3H666.7M663,550.6H666.7M663,587.9H666.7M663,625.2H666.7M665,457.3H666.7M665,494.7H666.7M665,532H666.7M665,569.3H666.7M665,606.6H666.7"/>
  <path d="M666.7,640V644M704.4,640V644M742.1,640V644M779.8,640V644M685.5,640V642M723.2,640V642M760.9,640V642M798.6,640V642"/>
</g>
<g font-size="16.5" text-anchor="end">
  <text x="661" y="482">0</text><text x="661" y="519.3">-15</text><text x="661" y="556.6">-30</text>
  <text x="661" y="593.9">-45</text><text x="661" y="631.2">-60</text>
</g>
<g font-size="17" text-anchor="middle">
  <text x="666.7" y="655">0</text><text x="704.4" y="655">5</text><text x="742.1" y="655">10</text>
  <text x="779.8" y="655">15</text><text x="816" y="655">20</text>
</g>
<text x="745" y="672" font-size="16" text-anchor="middle">Density of states</text>
<g stroke-width="1.3">
  <line x1="748" y1="571.7" x2="783" y2="571.7" stroke="#c4e2f4"/>
  <line x1="748" y1="591" x2="783" y2="591" stroke="#9dd6ee"/>
  <line x1="748" y1="610" x2="783" y2="610" stroke="#3cc8e0" stroke-width="2"/>
  <line x1="748" y1="629" x2="783" y2="629" stroke="#2a8fd0" stroke-width="1.8"/>
</g>
<g font-size="15.5"><text x="788" y="577">s</text><text x="788" y="596">p</text><text x="788" y="615">d</text><text x="788" y="634">Sum</text></g>
</svg>
</body></html>
